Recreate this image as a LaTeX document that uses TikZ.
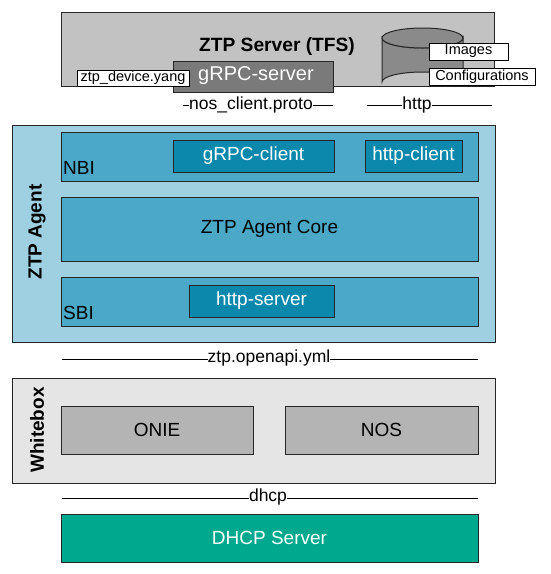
\documentclass[tikz,border=0pt]{standalone}
\usepackage{fontspec}
\setmainfont{Liberation Sans}
\usetikzlibrary{calc}
\begin{document}
\begin{tikzpicture}[x=1pt,y=-1pt,
  box/.style={draw=black!85,line width=1pt,anchor=north west,inner sep=0pt,outer sep=0pt},
  lbl/.style={font=\fontsize{19}{21}\selectfont,inner sep=0pt},
  small/.style={font=\fontsize{14.5}{16}\selectfont,inner sep=0pt},
  tag/.style={draw=black,line width=1pt,fill=white,anchor=north west,inner sep=0pt,outer sep=0pt,small},
  iface/.style={fill=white,inner sep=0pt,font=\fontsize{17.5}{20}\selectfont},
  wire/.style={line width=1pt,black}]
\definecolor{srvgray}{HTML}{C2C2C2}
\definecolor{grpcgray}{HTML}{7A7A7A}
\definecolor{cylgray}{HTML}{8A8A8A}
\definecolor{agentout}{HTML}{9FD0E1}
\definecolor{agentmid}{HTML}{4BA8C6}
\definecolor{agentin}{HTML}{0C88AC}
\definecolor{wbgray}{HTML}{E5E5E5}
\definecolor{osgray}{HTML}{B4B4B4}
\definecolor{dhcpgreen}{HTML}{00A88D}
\useasboundingbox[fill=white] (0,0) rectangle (550,574);

% ZTP Server
\node[box,fill=srvgray,minimum width=433pt,minimum height=74pt] (srv) at (61,12) {};
\node[lbl,font=\fontsize{19.2}{21}\selectfont\bfseries] (srvt) at (277,47) {ZTP Server (TFS)};
\node[box,fill=grpcgray,minimum width=160pt,minimum height=31pt] (grpcs) at (173,61) {};
\node[lbl,text=white,font=\fontsize{20}{22}\selectfont] (grpcst) at (256,76) {gRPC-server};
\node[tag,minimum width=112pt,minimum height=16pt] (yang) at (77,70) {};
\node[small] at (yang.center) {ztp\_device.yang};
% cylinder
\fill[cylgray,draw=black!85,line width=1pt] (382,38) -- (382,82) arc[start angle=180,end angle=360,x radius=40.5,y radius=10] -- (463,38) arc[start angle=0,end angle=180,x radius=40.5,y radius=10] -- cycle;
\draw[fill=cylgray,line width=1pt,draw=black!85] (422.5,38) ellipse[x radius=40.5,y radius=10];
\node[tag,minimum width=79pt,minimum height=17pt] (img) at (429,43) {};
\node[small] at (img.center) {Images};
\node[tag,minimum width=106pt,minimum height=17pt] (cfg) at (429,68) {};
\node[small] at (cfg.center) {Configurations};

% interface lines top
\coordinate (p1) at (183,105);
\coordinate (p2) at (333,105);
\draw[wire] (p1) -- (p2);
\node[iface] (proto) at (251,105) {nos\_client.proto};
\coordinate (h1) at (367,105);
\coordinate (h2) at (492,105);
\draw[wire] (h1) -- (h2);
\node[iface] (http) at (417,105) {http};

% ZTP Agent
\node[box,fill=agentout,minimum width=483pt,minimum height=217pt] (agent) at (12,125) {};
\node[lbl,font=\fontsize{19}{21}\selectfont\bfseries,rotate=90] (agentt) at (37,232) {ZTP Agent};
\node[box,fill=agentmid,minimum width=417pt,minimum height=49pt] (nbi) at (61,132) {};
\node[lbl,anchor=south west] (nbit) at (63,175) {NBI};
\node[box,fill=agentin,minimum width=161pt,minimum height=32pt] (grpcc) at (173,140) {};
\node[lbl,text=white] at (grpcc.center) {gRPC-client};
\node[box,fill=agentin,minimum width=97pt,minimum height=32pt] (httpc) at (365,140) {};
\node[lbl,text=white] at (httpc.center) {http-client};
\node[box,fill=agentmid,minimum width=417pt,minimum height=64pt] (core) at (61,197) {};
\node[lbl] at (core.center) {ZTP Agent Core};
\node[box,fill=agentmid,minimum width=417pt,minimum height=49pt] (sbi) at (61,277) {};
\node[lbl,anchor=south west] (sbit) at (63,320) {SBI};
\node[box,fill=agentin,minimum width=145pt,minimum height=32pt] (https) at (189,285) {};
\node[lbl,text=white] at (https.center) {http-server};

% openapi line
\coordinate (o1) at (62,359);
\coordinate (o2) at (478,359);
\draw[wire] (o1) -- (o2);
\node[iface] (openapi) at (269,358) {ztp.openapi.yml};

% Whitebox
\node[box,fill=wbgray,minimum width=483pt,minimum height=105pt] (wb) at (12,378) {};
\node[lbl,font=\fontsize{19}{21}\selectfont\bfseries,rotate=90] (wbt) at (37,430) {Whitebox};
\node[box,fill=osgray,minimum width=192pt,minimum height=48pt] (onie) at (61,406) {};
\node[lbl] at (onie.center) {ONIE};
\node[box,fill=osgray,minimum width=193pt,minimum height=48pt] (nos) at (285,406) {};
\node[lbl] at (nos.center) {NOS};

% dhcp line
\coordinate (d1) at (62,498);
\coordinate (d2) at (478,498);
\draw[wire] (d1) -- (d2);
\node[iface] (dhcp) at (268,497) {dhcp};

% DHCP server
\node[box,fill=dhcpgreen,minimum width=417pt,minimum height=48pt] (dhcps) at (61,514) {};
\node[lbl,text=white] at (dhcps.center) {DHCP Server};
\end{tikzpicture}
\end{document}
